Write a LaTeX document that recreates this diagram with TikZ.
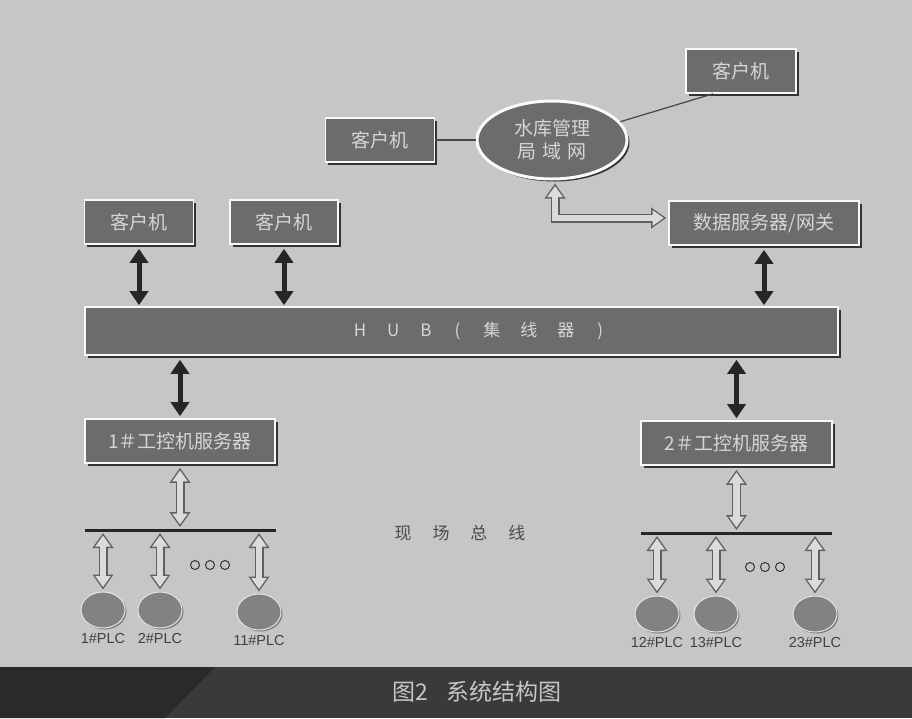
\documentclass[tikz,border=0pt]{standalone}
\usepackage{fontspec}
\setmainfont{Noto Sans CJK SC}
\newfontfamily\plcfont{Liberation Sans}
\usetikzlibrary{arrows.meta,shadows,shapes.geometric,positioning}
\definecolor{bggray}{HTML}{C6C6C6}
\definecolor{boxgray}{HTML}{6C6C6C}
\definecolor{txtgray}{HTML}{D6D6D6}
\definecolor{bandL}{HTML}{2A2A2A}
\definecolor{bandR}{HTML}{3A3A3A}

\tikzset{
  box/.style={draw=white!95!gray, line width=1.6pt, fill=boxgray, text=txtgray,
    font=\fontsize{19}{19}\selectfont, minimum height=44pt, inner sep=0pt,
    drop shadow={shadow xshift=2.5pt, shadow yshift=-2.5pt, opacity=1, fill=black!80}},
  plc/.style={ellipse, draw=white!80!gray, line width=1pt, fill=boxgray!85!white,
    minimum width=44pt, minimum height=36pt, inner sep=0pt,
    drop shadow={shadow xshift=1.5pt, shadow yshift=-1.5pt, opacity=0.6, fill=black!70}},
  plclab/.style={font=\plcfont\fontsize{14.5}{14.5}\selectfont, text=black!75},
  bigarrow/.style={line width=5pt, black!85,
    {Triangle[length=14pt,width=18pt]}-{Triangle[length=14pt,width=18pt]}},
  hollow/.style={draw=gray!75!black, line width=9pt, line join=miter,
    {Triangle[length=15pt,width=20pt]}-{Triangle[length=15pt,width=20pt]},
    postaction={draw=white!86!black, line width=6.2pt,
      {Triangle[length=11pt,width=14.8pt]}-{Triangle[length=11pt,width=14.8pt]},
      shorten <=2.5pt, shorten >=2.5pt}},
  link/.style={draw=gray!55!black, line width=1.2pt},
}

\begin{document}
\begin{tikzpicture}[x=1pt,y=-1pt]
\useasboundingbox (0,0) rectangle (912,718);
\fill[bggray] (0,0) rectangle (912,718);
% caption band
\fill[bandR] (0,667) rectangle (912,718);
\fill[bandL] (0,667) -- (215,667) -- (165,718) -- (0,718) -- cycle;
\node[text=gray!45, font=\fontsize{23}{23}\selectfont] (cap) at (477,692) {图2\hspace{18pt}系统结构图};

% LAN part
\node[box, minimum width=110pt] (kh0) at (741,71) {客户机};
\node[box, minimum width=109pt] (kh1) at (380,140) {客户机};
\node[ellipse, box, minimum width=150pt, minimum height=78pt, line width=3pt,
  align=center, font=\fontsize{19}{23}\selectfont] (lan) at (552,140) {水库管理\\局\hspace{6pt}域\hspace{6pt}网};
\node[box, minimum width=190pt] (data) at (764,223) {数据服务器/网关};
\draw[link] (kh1.east) -- (lan.west);
\draw[link] (lan.15) -- ([xshift=-28pt]kh0.south);
\draw[hollow] ([xshift=3pt,yshift=-3pt]lan.south) |- ([xshift=-2pt,yshift=5pt]data.west);

% clients and hub
\node[box, minimum width=109pt] (kh2) at (139,222) {客户机};
\node[box, minimum width=108pt] (kh3) at (284,222) {客户机};
\node[box, minimum width=753pt, minimum height=48pt, font=\fontsize{17}{17}\selectfont] (hub) at (461.5,331)
  {\hspace*{34pt}H\hspace{21pt}U\hspace{21pt}B\hspace{23pt}(\hspace{23pt}集\hspace{20pt}线\hspace{20pt}器\hspace{23pt})};
\foreach \k in {kh2,kh3,data}
{
    \draw[bigarrow, shorten <=4pt, shorten >=1pt] (\k.south) -- (\k.south |- hub.north);
}

% servers
\node[box, minimum width=190pt] (gk1) at (180,441) {1＃工控机服务器};
\node[box, minimum width=191pt] (gk2) at (736.5,443) {2＃工控机服务器};
\foreach \g in {gk1,gk2}
{
    \draw[bigarrow, shorten <=4pt, shorten >=2pt] (\g.north |- hub.south) -- (\g.north);
}

% field bus
\coordinate (bus1w) at (85,530);
\coordinate (bus1e) at (276,530);
\coordinate (bus2w) at (641,533);
\coordinate (bus2e) at (832,533);
\draw[line width=3pt, black!85] (bus1w) -- (bus1e);
\draw[line width=3pt, black!85] (bus2w) -- (bus2e);
\draw[hollow] ([yshift=-4pt]gk1.south) -- ([yshift=3pt]gk1.south |- bus1w);
\draw[hollow] ([yshift=-4pt]gk2.south) -- ([yshift=3pt]gk2.south |- bus2w);
\node[text=black!70, font=\fontsize{17}{17}\selectfont] (fb) at (460,533)
  {现\hspace{21pt}场\hspace{21pt}总\hspace{21pt}线};

% PLCs
\foreach \n/\x/\y/\b in {1/103/610/bus1w, 2/160/610/bus1w, 11/259/612/bus1w,
  12/657/614/bus2w, 13/716/614/bus2w, 23/815/614/bus2w}
{
    \node[plc] (plc\n) at (\x,\y) {};
    \node[plclab, below=1pt of plc\n] (lab\n) {\n\#PLC};
    \draw[hollow] ([yshift=-3pt]plc\n.north |- \b) -- ([yshift=2pt]plc\n.north);
}
\foreach \x/\y in {195/565, 750/567}
{
    \foreach \i in {0,1,2}
        \draw[gray!40!black, line width=1pt] (\x+\i*15,\y) circle (4.5pt);
}
\end{tikzpicture}
\end{document}
